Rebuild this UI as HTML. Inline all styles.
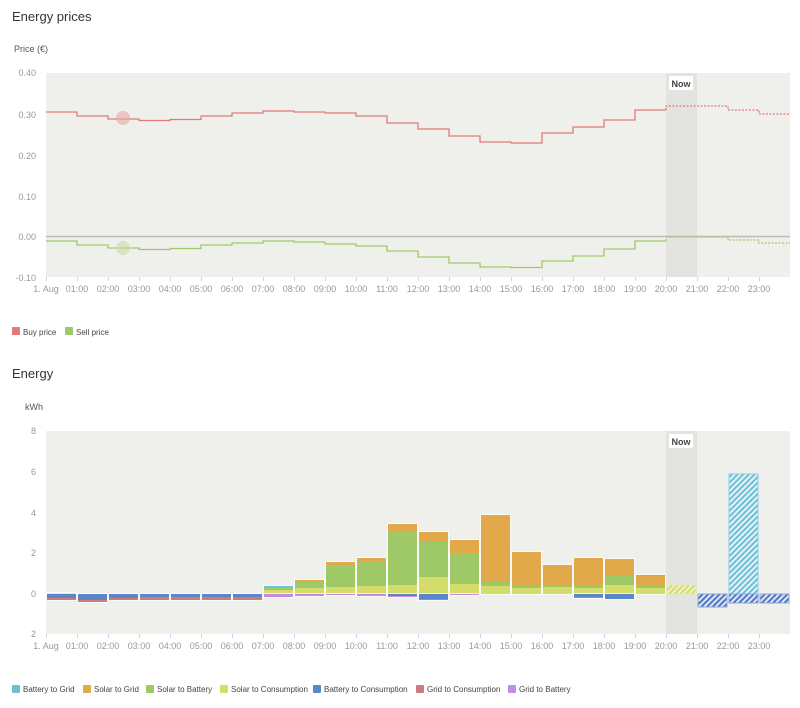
<!DOCTYPE html>
<html><head><meta charset="utf-8"><style>
html,body{margin:0;padding:0;background:#fff;width:800px;height:708px;overflow:hidden}
svg{display:block;font-family:"Liberation Sans",sans-serif}
</style></head><body>
<svg id="s" width="800" height="708" viewBox="0 0 800 708" style="position:absolute;left:0;top:0">
<defs>
<pattern id="hy" width="4" height="4" patternUnits="userSpaceOnUse" patternTransform="rotate(45)"><rect width="4" height="4" fill="#eef0c8"/><rect width="2" height="4" fill="#d4dc6a"/></pattern>
<pattern id="hb" width="4" height="4" patternUnits="userSpaceOnUse" patternTransform="rotate(45)"><rect width="4" height="4" fill="#dfe6f4"/><rect width="2" height="4" fill="#4f78c4"/></pattern>
<pattern id="hl" width="4" height="4" patternUnits="userSpaceOnUse" patternTransform="rotate(45)"><rect width="4" height="4" fill="#e6f3f8"/><rect width="2" height="4" fill="#6bc0d8"/></pattern>
</defs>
<text x="12" y="21" font-size="13" fill="#333">Energy prices</text>
<text x="14" y="52" font-size="9" fill="#555">Price (€)</text>
<rect x="46" y="73" width="744" height="204" fill="#efefeb"/>
<rect x="666" y="73" width="31" height="204" fill="#e3e3df"/>
<g font-size="9" fill="#999" text-anchor="end">
<text x="36" y="76">0.40</text><text x="36" y="118">0.30</text><text x="36" y="159">0.20</text><text x="36" y="200">0.10</text><text x="36" y="240">0.00</text><text x="36" y="281">-0.10</text>
</g>
<line x1="46" y1="236.5" x2="790" y2="236.5" stroke="#bdbdb8" stroke-width="1.5"/>
<g id="pl"></g>
<circle cx="123" cy="118" r="7" fill="#e8a8a8" opacity="0.6"/>
<circle cx="123" cy="248" r="7" fill="#c8dca8" opacity="0.6"/>
<rect x="669" y="76" width="24" height="14" fill="#fff"/>
<text x="681" y="87" font-size="9" font-weight="bold" fill="#444" text-anchor="middle">Now</text>
<g id="xt1"></g>
<rect x="12" y="327" width="8" height="8" rx="1" fill="#e07a7a"/><text x="23" y="335" font-size="8" fill="#444">Buy price</text>
<rect x="65" y="327" width="8" height="8" rx="1" fill="#9fc966"/><text x="76" y="335" font-size="8" fill="#444">Sell price</text>

<text x="12" y="378" font-size="13" fill="#333">Energy</text>
<text x="25" y="410" font-size="9" fill="#555">kWh</text>
<rect x="46" y="431" width="744" height="203" fill="#efefeb"/>
<rect x="666" y="431" width="31" height="203" fill="#e3e3df"/>
<g font-size="9" fill="#999" text-anchor="end">
<text x="36" y="434">8</text><text x="36" y="475">6</text><text x="36" y="516">4</text><text x="36" y="556">2</text><text x="36" y="597">0</text><text x="36" y="637">2</text>
</g>
<g id="bars"></g>
<rect x="669" y="434" width="24" height="14" fill="#fff"/>
<text x="681" y="445" font-size="9" font-weight="bold" fill="#444" text-anchor="middle">Now</text>
<g id="xt2"></g>
<g font-size="8" fill="#444">
<rect x="12" y="685" width="8" height="8" rx="1" fill="#6bc0d8"/><text x="23" y="692">Battery to Grid</text>
<rect x="83" y="685" width="8" height="8" rx="1" fill="#e2a94b"/><text x="94" y="692">Solar to Grid</text>
<rect x="146" y="685" width="8" height="8" rx="1" fill="#9fc966"/><text x="157" y="692">Solar to Battery</text>
<rect x="220" y="685" width="8" height="8" rx="1" fill="#d4dc6a"/><text x="231" y="692">Solar to Consumption</text>
<rect x="313" y="685" width="8" height="8" rx="1" fill="#5b86c8"/><text x="324" y="692">Battery to Consumption</text>
<rect x="416" y="685" width="8" height="8" rx="1" fill="#d07a7a"/><text x="427" y="692">Grid to Consumption</text>
<rect x="508" y="685" width="8" height="8" rx="1" fill="#c58be0"/><text x="519" y="692">Grid to Battery</text>
</g>
<g font-size="9" fill="#999" text-anchor="middle">
<text x="46" y="292">1. Aug</text><text x="77" y="292">01:00</text><text x="108" y="292">02:00</text><text x="139" y="292">03:00</text><text x="170" y="292">04:00</text><text x="201" y="292">05:00</text><text x="232" y="292">06:00</text><text x="263" y="292">07:00</text><text x="294" y="292">08:00</text><text x="325" y="292">09:00</text><text x="356" y="292">10:00</text><text x="387" y="292">11:00</text><text x="418" y="292">12:00</text><text x="449" y="292">13:00</text><text x="480" y="292">14:00</text><text x="511" y="292">15:00</text><text x="542" y="292">16:00</text><text x="573" y="292">17:00</text><text x="604" y="292">18:00</text><text x="635" y="292">19:00</text><text x="666" y="292">20:00</text><text x="697" y="292">21:00</text><text x="728" y="292">22:00</text><text x="759" y="292">23:00</text>
<text x="46" y="649">1. Aug</text><text x="77" y="649">01:00</text><text x="108" y="649">02:00</text><text x="139" y="649">03:00</text><text x="170" y="649">04:00</text><text x="201" y="649">05:00</text><text x="232" y="649">06:00</text><text x="263" y="649">07:00</text><text x="294" y="649">08:00</text><text x="325" y="649">09:00</text><text x="356" y="649">10:00</text><text x="387" y="649">11:00</text><text x="418" y="649">12:00</text><text x="449" y="649">13:00</text><text x="480" y="649">14:00</text><text x="511" y="649">15:00</text><text x="542" y="649">16:00</text><text x="573" y="649">17:00</text><text x="604" y="649">18:00</text><text x="635" y="649">19:00</text><text x="666" y="649">20:00</text><text x="697" y="649">21:00</text><text x="728" y="649">22:00</text><text x="759" y="649">23:00</text>
</g>
</svg>
<script>
var NS="http://www.w3.org/2000/svg";
function el(p,t,a){var e=document.createElementNS(NS,t);for(var k in a)e.setAttribute(k,a[k]);p.appendChild(e);return e;}
var X=function(h){return 46+31*h;};
["xt1","xt2"].forEach(function(id,j){var g=document.getElementById(id);var ty=j?634:277;
for(var i=0;i<24;i++){el(g,"line",{x1:X(i)+.5,y1:ty,x2:X(i)+.5,y2:ty+4,stroke:"#cdd6ea"});}});
var buy=[112,116,119,120.5,119.5,116,113,111,112,113,116,123,129,136,142,143,133,127,120,110,106,106,110,114];
var sell=[241,245,248,249.5,248.5,245,243,241,242,244,246,251,257,263,267,267.5,261,256,249,241,237,237,240,243];
var pl=document.getElementById("pl");
function step(arr,c){var d="M"+X(0)+" "+arr[0];for(var i=0;i<20;i++){d+=" H"+X(i+1);if(i<19)d+=" V"+arr[i+1];}
el(pl,"path",{d:d,fill:"none",stroke:c,"stroke-width":1.3});
var d2="M"+X(20)+" "+arr[19]+" V"+arr[20];for(var i=20;i<24;i++){d2+=" H"+X(i+1);if(i<23)d2+=" V"+arr[i+1];}
el(pl,"path",{d:d2,fill:"none",stroke:c,"stroke-width":1.3,"stroke-dasharray":"2,1.5"});}
step(buy,"#e07a7a");step(sell,"#9fc966");
var C={y:"#d4dc6a",g:"#9fc966",o:"#e2a94b",l:"#6bc0d8",b:"#5b86c8",r:"#d07a7a",p:"#c58be0"};
var bars=[
[[["l",593]],[["b",598],["r",600]]],
[[],[["b",600],["r",602]]],
[[],[["b",598],["r",600]]],
[[],[["b",597],["r",600]]],
[[],[["b",597],["r",600]]],
[[],[["b",597],["r",600]]],
[[],[["b",597],["r",600]]],
[[["y",590],["g",588],["o",587],["l",586]],[["p",597]]],
[[["y",588],["g",582],["o",580]],[["p",596]]],
[[["y",587],["g",565],["o",562]],[["p",595]]],
[[["y",586],["g",562],["o",558]],[["p",596]]],
[[["y",585],["g",531],["o",524]],[["b",596],["p",597]]],
[[["y",577],["g",542],["o",532]],[["b",599],["r",600]]],
[[["y",584],["g",554],["o",540]],[["p",595]]],
[[["y",586],["g",582],["o",515]],[]],
[[["y",588],["g",586],["o",552]],[]],
[[["y",587],["g",586],["o",565]],[]],
[[["y",588],["g",585],["o",558]],[["b",597],["r",598]]],
[[["y",585],["g",576],["o",559]],[["b",599]]],
[[["y",588],["g",586],["o",576],["l",575]],[]]
];
var bg=document.getElementById("bars");
bars.forEach(function(b,h){var x=X(h)+1,w=29;var prev=594;
b[0].forEach(function(s){el(bg,"rect",{x:x,y:s[1],width:w,height:prev-s[1],fill:C[s[0]]});prev=s[1];});
if(b[0].length)el(bg,"rect",{x:x-.5,y:prev-.5,width:w+1,height:594-prev+1,fill:"none",stroke:"#fff","stroke-width":1,opacity:.7});
prev=594;b[1].forEach(function(s){el(bg,"rect",{x:x,y:prev,width:w,height:s[1]-prev,fill:C[s[0]]});prev=s[1];});
if(b[1].length)el(bg,"rect",{x:x-.5,y:593.5,width:w+1,height:prev-594+1,fill:"none",stroke:"#fff","stroke-width":1,opacity:.7});});
function hr(h,y1,y2,f,st){el(bg,"rect",{x:X(h)+1,y:y1,width:29,height:y2-y1,fill:"url(#"+f+")",stroke:st,"stroke-width":1});}
hr(20,585,594,"hy","#e4e8b0");hr(21,594,607,"hb","#8aa6dc");hr(22,474,594,"hl","#8ccfe2");hr(22,594,603,"hb","#8aa6dc");hr(23,594,603,"hb","#8aa6dc");
</script>
</body></html>
